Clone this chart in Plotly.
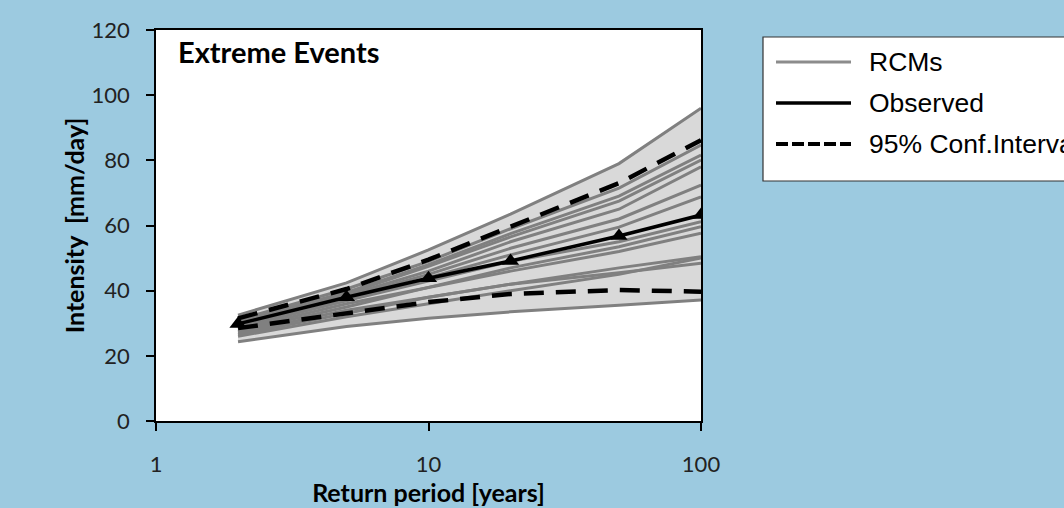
import plotly.graph_objects as go

# ---- data ----
return_periods = [2, 5, 10, 20, 50, 100]
observed = [29.8, 38.0, 43.8, 49.1, 56.8, 63.2]
ci_upper = [31.5, 40.5, 49.5, 59.5, 73.0, 86.2]
ci_lower = [28.5, 33.0, 36.5, 39.0, 40.2, 39.7]

rcm_1 = [32.5, 42.4, 52.5, 63.5, 79.0, 96.0]
rcm_2 = [31.0, 40.5, 49.0, 59.0, 71.5, 84.7]
rcm_3 = [30.5, 39.5, 48.0, 57.5, 69.0, 81.6]
rcm_4 = [31.0, 39.0, 47.5, 56.5, 67.5, 80.1]
rcm_5 = [30.0, 38.5, 46.0, 55.0, 65.0, 78.0]
rcm_6 = [29.5, 38.0, 45.0, 53.0, 62.0, 72.4]
rcm_7 = [28.5, 37.0, 44.0, 51.0, 59.5, 68.8]
rcm_8 = [29.0, 37.0, 43.0, 49.0, 55.0, 61.2]
rcm_9 = [27.5, 35.0, 41.0, 47.0, 53.5, 59.6]
rcm_10 = [28.0, 36.0, 41.0, 46.0, 52.0, 57.6]
rcm_11 = [26.5, 33.0, 38.0, 42.0, 47.0, 50.4]
rcm_12 = [27.0, 34.0, 38.0, 42.0, 45.5, 48.4]
rcm_13 = [24.3, 29.0, 31.5, 33.5, 35.5, 37.1]
rcm_14 = [26.0, 32.0, 36.0, 40.0, 45.0, 50.0]
rcms = [rcm_1, rcm_2, rcm_3, rcm_4, rcm_5, rcm_6, rcm_7, rcm_8, rcm_9,
        rcm_10, rcm_11, rcm_12, rcm_13, rcm_14]

x_ticks = [1, 10, 100]
x_tick_labels = ["1", "10", "100"]

BG = "#9ccae0"
FONT = "Lato"

fig = go.Figure()

# envelope fill
env_max = [max(r[i] for r in rcms) for i in range(len(return_periods))]
env_min = [min(r[i] for r in rcms) for i in range(len(return_periods))]
fig.add_trace(go.Scatter(x=return_periods + return_periods[::-1],
                         y=env_max + env_min[::-1], fill="toself",
                         fillcolor="#d9d9d9", line=dict(width=0),
                         mode="lines", showlegend=False, hoverinfo="skip"))

for r in rcms:
    fig.add_trace(go.Scatter(x=return_periods, y=r, mode="lines",
                             line=dict(color="#808080", width=3),
                             showlegend=False))

fig.add_trace(go.Scatter(x=return_periods, y=ci_upper, mode="lines",
                         line=dict(color="black", width=4.5, dash="20px,12px"),
                         showlegend=False))
fig.add_trace(go.Scatter(x=return_periods, y=ci_lower, mode="lines",
                         line=dict(color="black", width=4.5, dash="20px,12px"),
                         showlegend=False))
fig.add_trace(go.Scatter(x=return_periods, y=observed, mode="lines+markers",
                         line=dict(color="black", width=3.5),
                         marker=dict(symbol="triangle-up", size=15, color="black"),
                         showlegend=False))

# plot-area pixel geometry: x 156..701, y 30..421
L, R, T, B = 156, 701, 30, 421
W, H = R - L, B - T
def px(x):
    return (x - L) / W
def py(y):
    return (B - y) / H

shapes = []
# legend box
shapes.append(dict(type="rect", xref="paper", yref="paper",
                   x0=px(763), x1=px(1090), y0=py(181), y1=py(37),
                   line=dict(color="#333333", width=1.2), fillcolor="white",
                   layer="above"))
legend_items = [("RCMs", dict(color="#8c8c8c", width=3)),
                ("Observed", dict(color="black", width=3.5)),
                ("95% Conf.Interval", dict(color="black", width=4, dash="12px,4px"))]
annotations = []
for i, (name, ln) in enumerate(legend_items):
    yy = 62 + i * 41
    shapes.append(dict(type="line", xref="paper", yref="paper",
                       x0=px(776), x1=px(851), y0=py(yy), y1=py(yy),
                       line=ln, layer="above"))
    annotations.append(dict(xref="paper", yref="paper", x=px(867), y=py(yy),
                            text=name, showarrow=False, xanchor="left",
                            yanchor="middle",
                            font=dict(family="Arial", size=26.5, color="black")))

annotations.append(dict(xref="paper", yref="paper", x=px(176), y=py(52),
                        text="<b>Extreme Events</b>", showarrow=False,
                        xanchor="left", yanchor="middle",
                        font=dict(family=FONT, size=29, color="black")))

fig.update_layout(
    width=1064, height=508,
    margin=dict(l=L, r=1064 - R, t=T, b=508 - B),
    paper_bgcolor=BG, plot_bgcolor="white",
    shapes=shapes, annotations=annotations, showlegend=False,
    xaxis=dict(type="log", range=[0, 2], tickvals=x_ticks, ticktext=x_tick_labels,
               automargin=False,
               showgrid=False, zeroline=False, showline=True, linecolor="black",
               linewidth=1.5, mirror=True, ticks="outside", ticklen=8,
               tickcolor="black", tickwidth=1.5, ticklabelstandoff=15,
               tickfont=dict(family=FONT, size=22, color="#222222"),
               title=dict(text="<b>Return period [years]</b>", standoff=2,
                          font=dict(family=FONT, size=25, color="black"))),
    yaxis=dict(range=[0, 120], dtick=20, showgrid=False, zeroline=False,
               automargin=False,
               showline=True, linecolor="black", linewidth=1.5, mirror=True,
               ticks="outside", ticklen=8, tickcolor="black", tickwidth=1.5,
               ticklabelstandoff=12,
               tickfont=dict(family=FONT, size=22, color="#222222"),
               title=dict(text="<b>Intensity  [mm/day]</b>", standoff=0,
                          font=dict(family=FONT, size=25, color="black"))),
)

fig.write_html("out.html", config={"displayModeBar": False},
               post_script="document.body.style.margin='0';"
                           "document.body.style.background='%s';" % BG)
